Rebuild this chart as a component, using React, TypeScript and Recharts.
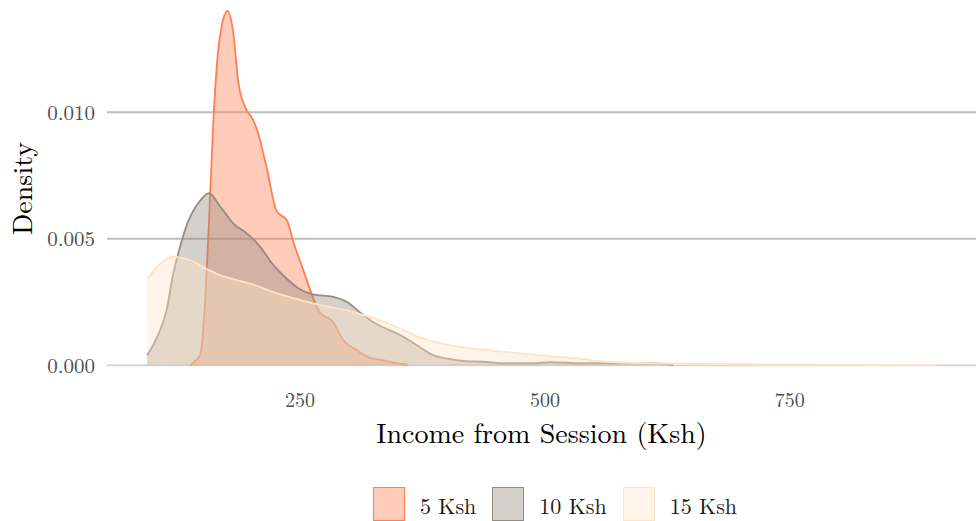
import { AreaChart, Area, XAxis, YAxis, CartesianGrid, Legend } from "recharts"

const FONT = "'Latin Modern Roman', 'CMU Serif', 'Liberation Serif', serif"

// density curves (income in Ksh, density)
const ksh5X = [138, 144, 148, 151, 155, 158, 161, 165, 170, 176, 182, 187, 194, 202, 207, 216, 226, 237, 243, 253, 263, 270, 284, 294, 308, 321, 335, 345, 360]
const ksh5Y = [0, 0.0002, 0.0004, 0.0013, 0.0039, 0.0065, 0.0092, 0.0118, 0.0134, 0.014, 0.0131, 0.0112, 0.0102, 0.0097, 0.0092, 0.0078, 0.0061, 0.0057, 0.0049, 0.0038, 0.0027, 0.0021, 0.0017, 0.001, 0.0006, 0.0003, 0.0002, 0.0001, 0.00003]

const ksh10X = [94, 104, 114, 120, 127, 135, 141, 148, 157, 168, 182, 196, 209, 222, 237, 250, 263, 284, 298, 311, 325, 335, 352, 369, 386, 403, 420, 437, 454, 488, 505, 539, 556, 607, 631]
const ksh10Y = [0.0004, 0.0011, 0.0022, 0.0035, 0.0046, 0.0056, 0.0061, 0.0065, 0.0068, 0.0063, 0.0056, 0.0052, 0.0047, 0.004, 0.0034, 0.003, 0.0028, 0.0027, 0.0025, 0.0021, 0.0017, 0.0015, 0.0012, 0.0008, 0.0004, 0.00024, 0.00016, 0.00014, 0.00008, 0.00008, 0.00012, 0.00008, 0.00008, 0.00008, 0.00002]

const ksh15X = [94, 107, 120, 128, 141, 155, 168, 182, 202, 222, 243, 263, 284, 304, 325, 352, 372, 393, 420, 454, 505, 539, 556, 573, 607, 641, 709, 800, 900]
const ksh15Y = [0.0034, 0.004, 0.0043, 0.00425, 0.0041, 0.0038, 0.00356, 0.0034, 0.0032, 0.0029, 0.00265, 0.00245, 0.00227, 0.0021, 0.00186, 0.00146, 0.0011, 0.00087, 0.0007, 0.00055, 0.00036, 0.00024, 0.00016, 0.00012, 0.00008, 0.00006, 0.00004, 0.00002, 0.00001]

const xTicks = [250, 500, 750]
const yTicks = [0, 0.005, 0.01]

const SERIES = [
  { key: "k5", name: "5 Ksh", xs: ksh5X, ys: ksh5Y, color: "#FF7F50" },
  { key: "k10", name: "10 Ksh", xs: ksh10X, ys: ksh10Y, color: "#948C82" },
  { key: "k15", name: "15 Ksh", xs: ksh15X, ys: ksh15Y, color: "#FFE4C4" },
]

// one row per income value, each series only where it has a point
const rows = new Map<number, any>()
SERIES.forEach((s) =>
  s.xs.forEach((x, i) => {
    const row = rows.get(x) ?? { income: x }
    row[s.key] = s.ys[i]
    rows.set(x, row)
  })
)
const table = [...rows.values()].sort((a, b) => a.income - b.income)

function LegendBox() {
  return (
    <div
      style={{
        height: 68,
        boxSizing: "border-box",
        paddingTop: 34,
        paddingLeft: 373,
        display: "flex",
        alignItems: "center",
        fontFamily: FONT,
        fontSize: 22,
        color: "#1a1a1a",
      }}
    >
      {SERIES.map((s) => (
        <div key={s.key} style={{ display: "flex", alignItems: "center", marginRight: 16 }}>
          <div
            style={{
              width: 32,
              height: 34,
              boxSizing: "border-box",
              border: `1.5px solid ${s.color}`,
              background: s.color + "66",
              marginRight: 15,
            }}
          />
          <span>{s.name}</span>
        </div>
      ))}
    </div>
  )
}

function YTitle(props: any) {
  const { viewBox } = props
  const x = viewBox.x + 32
  const y = viewBox.y + viewBox.height / 2 - 3
  return (
    <text x={x} y={y} transform={`rotate(-90, ${x}, ${y})`} textAnchor="middle" fontFamily={FONT} fontSize={28} fill="#000">
      Density
    </text>
  )
}

export default function App() {
  return (
    <div style={{ position: "absolute", left: 0, top: 0, background: "#fff" }}>
      <AreaChart width={976} height={521} data={table} margin={{ top: 0, right: 0, bottom: 0, left: 0 }}>
        <CartesianGrid
          vertical={false}
          horizontalValues={yTicks}
          horizontal={(p: any) => (
            <line
              key={p.key}
              x1={p.x1}
              y1={p.y1}
              x2={p.x2}
              y2={p.y2}
              stroke={p.index === 0 ? "#d6d6d6" : "#bebebe"}
              strokeWidth={2}
            />
          )}
        />
        <XAxis
          type="number"
          dataKey="income"
          domain={[53, 940]}
          ticks={xTicks}
          allowDataOverflow
          axisLine={false}
          tickLine={false}
          tickMargin={4}
          height={70}
          tick={{ fill: "#4d4d4d", fontSize: 20, fontFamily: FONT }}
          label={{ value: "Income from Session (Ksh)", position: "insideBottom", offset: 10, fill: "#000", fontSize: 28, fontFamily: FONT }}
        />
        <YAxis
          type="number"
          domain={[-0.0007, 0.01443]}
          ticks={yTicks}
          allowDataOverflow
          axisLine={false}
          tickLine={false}
          tickMargin={6}
          width={107}
          tickFormatter={(v: number) => v.toFixed(3)}
          tick={{ fill: "#4d4d4d", fontSize: 21, fontFamily: FONT }}
          label={<YTitle />}
        />
        <Legend verticalAlign="bottom" content={() => <LegendBox />} />
        {SERIES.map((s) => (
          <Area
            key={s.key}
            type="monotone"
            dataKey={s.key}
            name={s.name}
            connectNulls
            baseValue={0}
            stroke={s.color}
            strokeWidth={1.8}
            fill={s.color}
            fillOpacity={0.4}
            dot={false}
            activeDot={false}
            isAnimationActive={false}
          />
        ))}
      </AreaChart>
    </div>
  )
}
